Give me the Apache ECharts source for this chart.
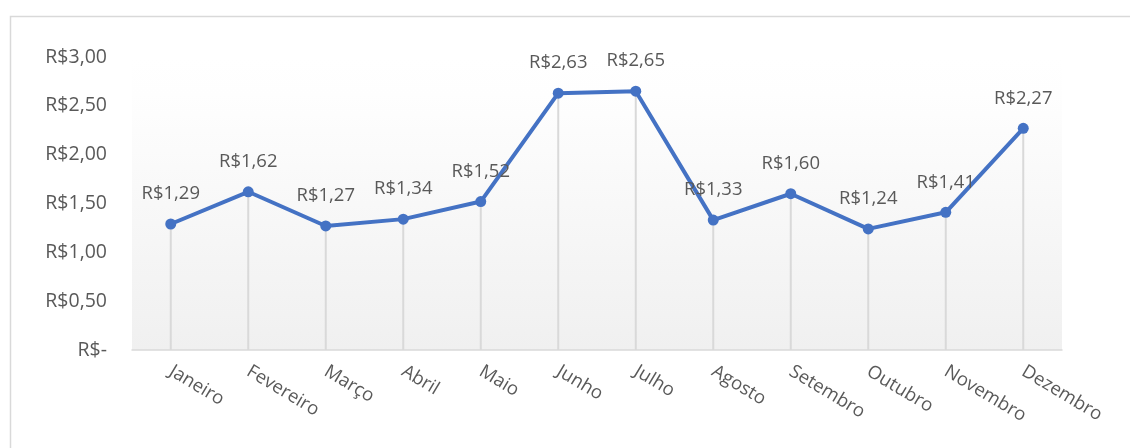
<!DOCTYPE html>
<html>
<head>
<meta charset="utf-8">
<script src="https://cdn.jsdelivr.net/npm/echarts@6/dist/echarts.min.js"></script>
<style>
html,body{margin:0;padding:0;background:#fff;}
#c{width:1130px;height:448px;}
</style>
</head>
<body>
<div id="c"></div>
<script>
var categories = ['Janeiro','Fevereiro','Março','Abril','Maio','Junho','Julho','Agosto','Setembro','Outubro','Novembro','Dezembro'];
var values = [1.29, 1.62, 1.27, 1.34, 1.52, 2.63, 2.65, 1.33, 1.60, 1.24, 1.41, 2.27];
var yTicks = [0, 0.5, 1, 1.5, 2, 2.5, 3];

function brl(v){
  if (v === 0) return 'R$-';
  return 'R$' + v.toFixed(2).replace('.', ',');
}

var FONT = 'Open Sans';
var chart = echarts.init(document.getElementById('c'), null, {renderer:'canvas'});
chart.setOption({
  animation: false,
  backgroundColor: '#ffffff',
  graphic: [{
    type: 'rect', left: 8, top: 14, shape: {width: 1140, height: 450},
    style: {fill: 'none', stroke: '#d9d9d9', lineWidth: 1.5}, silent: true, z: -1
  }],
  grid: {
    left: 132, right: 68, top: 57, bottom: 98,
    show: true, borderWidth: 0,
    backgroundColor: {
      type: 'linear', x: 0, y: 0, x2: 0, y2: 1,
      colorStops: [{offset: 0, color: '#ffffff'}, {offset: 0.13, color: '#fefefe'}, {offset: 1, color: '#f0f0f0'}]
    }
  },
  xAxis: {
    type: 'category',
    data: categories,
    boundaryGap: true,
    axisLine: {show: true, lineStyle: {color: '#d9d9d9', width: 1.5}},
    axisTick: {show: false},
    splitLine: {show: false},
    axisLabel: {rotate: -31, margin: 20, color: '#595959', fontFamily: FONT, fontSize: 18.5, interval: 0}
  },
  yAxis: {
    type: 'value',
    min: 0, max: 3, interval: 0.5,
    axisLine: {show: false},
    axisTick: {show: false},
    splitLine: {show: false},
    axisLabel: {margin: 25, color: '#595959', fontFamily: FONT, fontSize: 19.5, formatter: function(v){ return brl(v); }}
  },
  series: [
    {
      type: 'bar',
      data: values,
      barWidth: 2,
      itemStyle: {color: '#d9d9d9'},
      silent: true,
      z: 1
    },
    {
      type: 'line',
      data: values,
      symbol: 'circle',
      symbolSize: 11,
      lineStyle: {color: '#4472c4', width: 4},
      itemStyle: {color: '#4472c4'},
      label: {
        show: true, position: 'top', distance: 15,
        color: '#595959', fontFamily: FONT, fontSize: 18.5,
        formatter: function(p){ return brl(p.value); }
      },
      z: 3
    }
  ]
});
</script>
</body>
</html>
